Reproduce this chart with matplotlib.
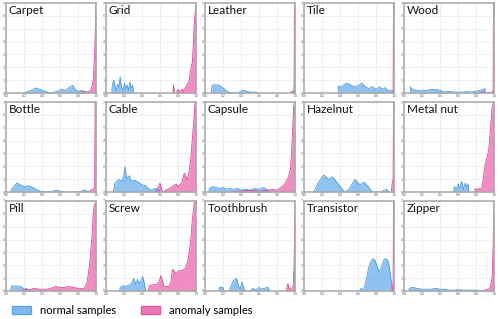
import matplotlib
matplotlib.use('Agg')
import matplotlib.pyplot as plt
from matplotlib.patches import Patch

plt.rcParams['font.family'] = ['Lato', 'DejaVu Sans']

# categories in panel order (3 rows x 5 columns)
categories = ['Carpet', 'Grid', 'Leather', 'Tile', 'Wood',
              'Bottle', 'Cable', 'Capsule', 'Hazelnut', 'Metal nut',
              'Pill', 'Screw', 'Toothbrush', 'Transistor', 'Zipper']

# score densities (percent of panel height)
carpet_nx = [0.2, 0.23, 0.28, 0.33, 0.38, 0.43, 0.48, 0.52, 0.57, 0.62, 0.66, 0.70, 0.74, 0.77, 0.80, 0.83, 0.86, 0.88, 0.89]
carpet_ny = [0, 1, 3, 5.5, 4, 2, 0.5, 0.5, 2, 4, 3, 6, 8.5, 4, 1.5, 3, 2, 1, 0]
carpet_ax = [0.82, 0.84, 0.87, 0.90, 0.93, 0.95, 0.97, 0.985, 0.995, 1.0]
carpet_ay = [0, 1, 2, 1, 2, 5, 15, 45, 80, 100]

grid_nx = [0.064, 0.07, 0.085, 0.10, 0.115, 0.13, 0.145, 0.157, 0.17, 0.19, 0.205, 0.22, 0.235, 0.25, 0.265, 0.28, 0.295, 0.307]
grid_ny = [0, 9, 14, 8, 3, 10, 6, 18, 8, 2, 11, 4, 9, 3, 12, 5, 9, 0]
grid_ax = [0.745, 0.75, 0.76, 0.78, 0.80, 0.81, 0.83, 0.85, 0.86, 0.88, 0.90, 0.92, 0.94, 0.96, 0.97, 0.98, 0.99, 1.0]
grid_ay = [0, 9, 0, 0, 4, 1, 3, 4, 2, 6, 9, 12, 25, 35, 55, 75, 90, 100]

leather_nx = [0.07, 0.08, 0.15, 0.18, 0.22, 0.26, 0.28, 0.35, 0.38, 0.42, 0.46, 0.50, 0.54, 0.57, 0.58]
leather_ny = [0, 9, 9, 7, 4, 1, 0.5, 0, 1, 3, 2, 1, 1, 1, 0]
leather_ax = [0.95, 0.97, 0.98, 0.99, 0.993, 1.0]
leather_ay = [1, 2, 1, 5, 97, 97]

tile_nx = [0.38, 0.381, 0.40, 0.43, 0.47, 0.50, 0.55, 0.60, 0.64, 0.68, 0.72, 0.76, 0.80, 0.84, 0.87, 0.90, 0.93, 0.97, 0.99, 0.991]
tile_ny = [0, 8, 6, 8, 11, 10, 7, 8, 11, 7, 5, 7, 4, 7, 4, 6, 3, 3, 2, 0]
tile_ax = [0.985, 0.99, 0.994, 1.0]
tile_ay = [0, 3, 100, 100]

wood_nx = [0.07, 0.071, 0.08, 0.10, 0.13, 0.18, 0.25, 0.30, 0.35, 0.40, 0.45, 0.50, 0.55, 0.60, 0.65, 0.70, 0.75, 0.80, 0.85, 0.88, 0.90, 0.901]
wood_ny = [0, 7, 5, 4, 3, 3, 3, 4, 4, 3, 1, 2, 1, 1, 1, 1.5, 1, 2, 3, 4, 5, 0]
wood_ax = [0.85, 0.88, 0.90, 0.98, 0.99, 0.994, 1.0]
wood_ay = [0, 2, 0, 1, 3, 100, 100]

bottle_nx = [0.05, 0.07, 0.12, 0.20, 0.25, 0.30, 0.35, 0.40, 0.50, 0.52, 0.56, 0.60, 0.65, 0.80, 0.84, 0.88, 0.90]
bottle_ny = [0, 4, 10, 6, 7, 5, 2, 0.5, 0, 1, 2, 1, 0, 0, 1, 2, 1]
bottle_ax = [0.90, 0.93, 0.96, 0.985, 0.99, 1.0]
bottle_ay = [0, 1, 3, 5, 100, 100]

cable_nx = [0.08, 0.10, 0.14, 0.18, 0.20, 0.21, 0.23, 0.26, 0.28, 0.32, 0.36, 0.40, 0.44, 0.48, 0.50, 0.55, 0.58, 0.60]
cable_ny = [0, 10, 14, 12, 20, 28, 15, 18, 12, 13, 11, 8, 7, 3, 2, 4, 3, 0]
cable_ax = [0.55, 0.58, 0.60, 0.62, 0.64, 0.66, 0.70, 0.74, 0.78, 0.80, 0.84, 0.87, 0.90, 0.92, 0.94, 0.96, 0.98, 0.99, 1.0]
cable_ay = [0, 5, 10, 2, 0, 2, 4, 6, 9, 6, 10, 21, 14, 20, 35, 60, 85, 100, 100]

capsule_nx = [0.04, 0.05, 0.08, 0.12, 0.16, 0.20, 0.24, 0.28, 0.32, 0.36, 0.40, 0.45, 0.50, 0.55, 0.60, 0.65, 0.70, 0.72]
capsule_ny = [0, 4, 6, 5, 4, 5, 3, 4, 3, 4, 2, 3, 2, 4, 3, 5, 2, 0]
capsule_ax = [0.30, 0.35, 0.40, 0.50, 0.60, 0.70, 0.75, 0.80, 0.84, 0.88, 0.92, 0.95, 0.97, 0.985, 1.0]
capsule_ay = [0, 1, 1, 2, 1, 2, 3, 2, 5, 8, 15, 25, 60, 95, 100]

hazelnut_nx = [0.11, 0.15, 0.217, 0.28, 0.315, 0.38, 0.45, 0.50, 0.565, 0.62, 0.67, 0.72, 0.76, 0.85, 0.89, 0.92, 0.94]
hazelnut_ny = [0, 9, 19, 14, 17, 9, 0, 3, 14, 8, 11, 5, 0, 0, 2, 3, 0]
hazelnut_ax = [0.97, 0.98, 0.99, 0.994, 1.0]
hazelnut_ay = [0, 10, 15, 100, 100]

metalnut_nx = [0.55, 0.56, 0.58, 0.60, 0.62, 0.64, 0.66, 0.68, 0.70, 0.71, 0.72]
metalnut_ny = [0, 6, 3, 9, 4, 12, 3, 10, 5, 9, 0]
metalnut_ax = [0.789, 0.79, 0.81, 0.83, 0.85, 0.87, 0.88, 0.90, 0.92, 0.94, 0.96, 0.98, 1.0]
metalnut_ay = [0, 4, 2, 4, 3, 6, 15, 30, 38, 45, 70, 95, 100]

pill_nx = [0.05, 0.06, 0.15, 0.18, 0.20, 0.25, 0.30]
pill_ny = [0, 5.5, 5.5, 4, 2, 1, 0]
pill_ax = [0.18, 0.20, 0.22, 0.25, 0.28, 0.32, 0.36, 0.40, 0.45, 0.50, 0.55, 0.60, 0.65, 0.70, 0.75, 0.80, 0.84, 0.87, 0.90, 0.93, 0.955, 0.97, 0.985, 1.0]
pill_ay = [0, 1, 3, 1, 2, 3, 2, 2, 2, 3, 5, 4, 4, 5, 4, 3, 3, 3, 9, 30, 60, 88, 97, 97]

screw_nx = [0.15, 0.16, 0.19, 0.21, 0.24, 0.27, 0.29, 0.31, 0.33, 0.35, 0.37, 0.39, 0.41, 0.43, 0.44, 0.45]
screw_ny = [0, 4, 6, 5, 6, 7, 10, 14, 7, 13, 8, 12, 16, 6, 1, 0]
screw_ax = [0.47, 0.48, 0.52, 0.56, 0.59, 0.61, 0.64, 0.66, 0.70, 0.72, 0.74, 0.78, 0.80, 0.85, 0.88, 0.90, 0.92, 0.94, 0.96, 0.98, 0.99, 1.0]
screw_ay = [0, 6, 7, 7, 10, 17, 6, 5, 5, 10, 24, 19, 22, 23, 25, 30, 40, 55, 80, 97, 100, 100]

toothbrush_nx = [0.15, 0.16, 0.20, 0.21, 0.27, 0.29, 0.32, 0.35, 0.37, 0.39, 0.41, 0.43, 0.45, 0.50, 0.53, 0.56, 0.60, 0.62, 0.66, 0.70, 0.72]
toothbrush_ny = [0, 4, 4, 0, 0, 6, 12, 14, 6, 2, 10, 3, 0, 0, 3, 1, 4, 2, 3, 4, 0]
toothbrush_ax = [0.90, 0.92, 0.94, 0.96, 0.98, 0.99, 1.0]
toothbrush_ay = [0, 8, 2, 3, 5, 30, 100]

transistor_nx = [0.62, 0.63, 0.65, 0.67, 0.69, 0.71, 0.73, 0.75, 0.77, 0.79, 0.81, 0.83, 0.85, 0.87, 0.89, 0.91, 0.93, 0.95, 0.97, 0.98]
transistor_ny = [0, 3, 1, 4, 12, 22, 30, 34, 36, 34, 28, 22, 24, 30, 35, 36, 34, 26, 10, 0]
transistor_ax = [0.98, 0.99, 0.994, 1.0]
transistor_ay = [0, 10, 100, 100]

zipper_nx = [0.05, 0.06, 0.10, 0.14, 0.20, 0.25, 0.30, 0.35, 0.40, 0.45, 0.50, 0.55, 0.60, 0.65, 0.70, 0.75, 0.80, 0.85, 0.90]
zipper_ny = [0, 3, 4, 3, 2, 2, 2, 3, 2, 2, 1, 1, 1.5, 1, 1, 1, 1, 0.5, 0]
zipper_ax = [0.85, 0.90, 0.94, 0.96, 0.98, 0.99, 1.0]
zipper_ay = [0, 1, 2, 5, 15, 50, 100]

normal_x = [carpet_nx, grid_nx, leather_nx, tile_nx, wood_nx, bottle_nx, cable_nx, capsule_nx,
            hazelnut_nx, metalnut_nx, pill_nx, screw_nx, toothbrush_nx, transistor_nx, zipper_nx]
normal_y = [carpet_ny, grid_ny, leather_ny, tile_ny, wood_ny, bottle_ny, cable_ny, capsule_ny,
            hazelnut_ny, metalnut_ny, pill_ny, screw_ny, toothbrush_ny, transistor_ny, zipper_ny]
anomaly_x = [carpet_ax, grid_ax, leather_ax, tile_ax, wood_ax, bottle_ax, cable_ax, capsule_ax,
             hazelnut_ax, metalnut_ax, pill_ax, screw_ax, toothbrush_ax, transistor_ax, zipper_ax]
anomaly_y = [carpet_ay, grid_ay, leather_ay, tile_ay, wood_ay, bottle_ay, cable_ay, capsule_ay,
             hazelnut_ay, metalnut_ay, pill_ay, screw_ay, toothbrush_ay, transistor_ay, zipper_ay]

blue_fill, blue_edge = '#6aaee9', '#4a9be3'
pink_fill, pink_edge = '#e85fa8', '#e0459c'

W, H = 498, 319
fig = plt.figure(figsize=(W / 100, H / 100), dpi=100)

col_left = [6, 106, 205, 304, 404]
row_top = [3, 102, 201]
pw, ph = 90, 90

for i, name in enumerate(categories):
    r, c = divmod(i, 5)
    ax = fig.add_axes([col_left[c] / W, 1 - (row_top[r] + ph) / H, pw / W, ph / H])
    ax.fill_between(normal_x[i], normal_y[i], color=blue_fill, alpha=0.75, lw=0)
    ax.plot(normal_x[i], normal_y[i], color=blue_edge, lw=0.6)
    ax.fill_between(anomaly_x[i], anomaly_y[i], color=pink_fill, alpha=0.7, lw=0)
    ax.plot(anomaly_x[i], anomaly_y[i], color=pink_edge, lw=0.6)
    ax.set_xlim(0, 1)
    ax.set_ylim(0, 100)
    ax.set_xticks([0, 0.2, 0.4, 0.6, 0.8, 1.0])
    ax.set_xticklabels(['0.0', '0.2', '0.4', '0.6', '0.8', '1.0'])
    yt = [k * 100 / 7 for k in range(8)]
    ax.set_yticks(yt)
    ax.set_yticklabels([str(k) for k in range(8)])
    ax.tick_params(length=0, labelsize=2.5, labelcolor='#666666', pad=1)
    ax.grid(True, color='#e0e0e0', lw=0.5, ls='--')
    ax.set_axisbelow(True)
    for s in ax.spines.values():
        s.set_color('#a8a8a8')
        s.set_linewidth(1.1)
    ax.text(0.03, 0.975, name, transform=ax.transAxes, ha='left', va='top',
            fontsize=8.5, color='#111111')

handles = [Patch(facecolor=blue_fill, edgecolor=blue_edge, alpha=0.85, label='normal samples'),
           Patch(facecolor=pink_fill, edgecolor=pink_edge, alpha=0.85, label='anomaly samples')]
fig.legend(handles=handles, loc='center left', bbox_to_anchor=(12 / W, 1 - 310 / H),
           ncol=2, frameon=False, fontsize=8, borderpad=0, borderaxespad=0,
           handlelength=1.7, handleheight=0.7, handletextpad=0.8, columnspacing=2.3)

fig.savefig('out.png', dpi=100)
